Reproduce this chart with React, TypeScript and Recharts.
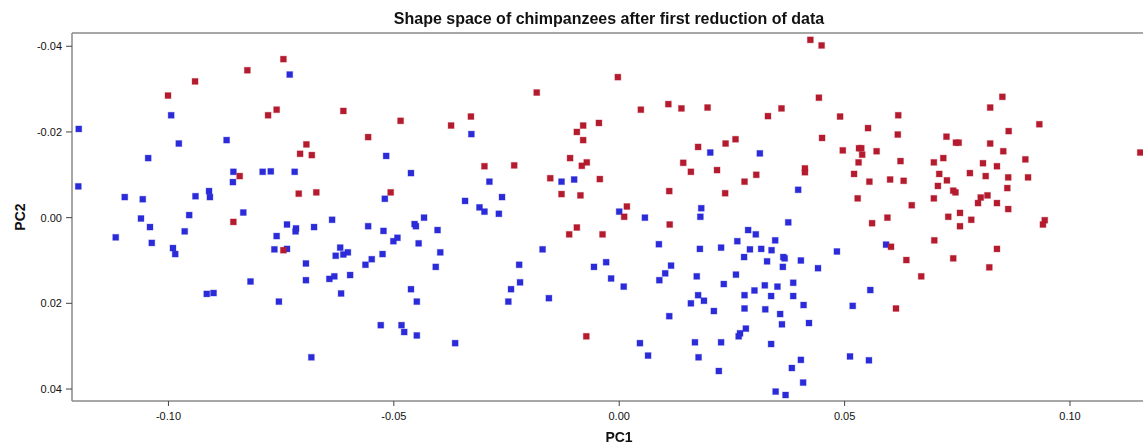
import React from 'react';
import { ScatterChart, Scatter, XAxis, YAxis, ReferenceLine } from 'recharts';

const title = 'Shape space of chimpanzees after first reduction of data';
const xLabel = 'PC1';
const yLabel = 'PC2';
const xTicks = [-0.1, -0.05, 0, 0.05, 0.1];
const yTicks = [-0.04, -0.02, 0, 0.02, 0.04];
const xDomain = [-0.1214, 0.1162];
const yDomain = [-0.0431, 0.0428];

const blueX = [
  -0.1199, -0.0994, -0.0977, -0.0871, -0.1045, -0.0856, -0.0857, -0.1200, -0.1097, -0.1057,
  -0.0940, -0.0910, -0.0908, -0.0834, -0.0954, -0.1061, -0.1041, -0.1117, -0.0964, -0.1037,
  -0.0990, -0.0985, -0.0818, -0.0915, -0.0900, -0.0731, -0.0791, -0.0773, -0.0720, -0.0517,
  -0.0462, -0.0520, -0.0737, -0.0717, -0.0718, -0.0677, -0.0637, -0.0760, -0.0557, -0.0523,
  -0.0454, -0.0451, -0.0433, -0.0403, -0.0765, -0.0737, -0.0619, -0.0629, -0.0612, -0.0602,
  -0.0501, -0.0492, -0.0445, -0.0525, -0.0549, -0.0563, -0.0397, -0.0407, -0.0695, -0.0695,
  -0.0643, -0.0632, -0.0597, -0.0617, -0.0755, -0.0462, -0.0449, -0.0529, -0.0483, -0.0477,
  -0.0449, -0.0683, -0.0328, -0.0288, -0.0260, -0.0342, -0.0310, -0.0299, -0.0267, -0.0128,
  -0.0100, 0.0000, -0.0170, -0.0222, -0.0220, -0.0240, -0.0246, -0.0156, -0.0056, -0.0029,
  -0.0018, 0.0010, -0.0364, 0.0202, 0.0312, 0.0397, 0.0057, 0.0182, 0.0180, 0.0375,
  0.0286, 0.0303, 0.0262, 0.0346, 0.0088, 0.0179, 0.0226, 0.0290, 0.0315, 0.0338,
  0.0277, 0.0328, 0.0364, 0.0367, 0.0403, 0.0363, 0.0115, 0.0102, 0.0089, 0.0172,
  0.0259, 0.0232, 0.0323, 0.0351, 0.0386, 0.0175, 0.0159, 0.0188, 0.0278, 0.0300,
  0.0337, 0.0386, 0.0409, 0.0210, 0.0278, 0.0324, 0.0357, 0.0111, 0.0361, 0.0421,
  0.0281, 0.0268, 0.0265, 0.0046, 0.0168, 0.0226, 0.0337, 0.0064, 0.0176, 0.0403,
  0.0383, 0.0221, 0.0408, 0.0347, 0.0369, 0.0592, 0.0483, 0.0441, 0.0557, 0.0518,
  0.0512, 0.0554,
];
const blueY = [
  -0.0207, -0.0239, -0.0173, -0.0181, -0.0139, -0.0107, -0.0083, -0.0073, -0.0048, -0.0043,
  -0.0050, -0.0062, -0.0048, -0.0012, -0.0006, 0.0002, 0.0022, 0.0046, 0.0032, 0.0059,
  0.0071, 0.0085, 0.0149, 0.0178, 0.0176, -0.0334, -0.0107, -0.0108, -0.0107, -0.0144,
  -0.0104, -0.0044, 0.0016, 0.0025, 0.0032, 0.0022, 0.0005, 0.0043, 0.0020, 0.0031,
  0.0015, 0.0020, 0.0000, 0.0029, 0.0074, 0.0073, 0.0070, 0.0089, 0.0086, 0.0081,
  0.0055, 0.0047, 0.0060, 0.0085, 0.0097, 0.0110, 0.0081, 0.0115, 0.0107, 0.0146,
  0.0143, 0.0137, 0.0134, 0.0177, 0.0196, 0.0167, 0.0196, 0.0251, 0.0251, 0.0267,
  0.0275, 0.0326, -0.0195, -0.0084, -0.0048, -0.0039, -0.0024, -0.0014, -0.0009, -0.0084,
  -0.0089, -0.0014, 0.0074, 0.0110, 0.0151, 0.0167, 0.0196, 0.0188, 0.0115, 0.0104,
  0.0142, 0.0161, 0.0293, -0.0152, -0.0150, -0.0065, 0.0000, -0.0022, -0.0002, 0.0011,
  0.0029, 0.0039, 0.0055, 0.0053, 0.0062, 0.0073, 0.0070, 0.0074, 0.0073, 0.0076,
  0.0092, 0.0102, 0.0092, 0.0095, 0.0100, 0.0115, 0.0112, 0.0130, 0.0146, 0.0137,
  0.0133, 0.0155, 0.0158, 0.0161, 0.0152, 0.0181, 0.0200, 0.0194, 0.0181, 0.0170,
  0.0183, 0.0183, 0.0204, 0.0218, 0.0212, 0.0214, 0.0225, 0.0230, 0.0249, 0.0246,
  0.0259, 0.0270, 0.0277, 0.0293, 0.0291, 0.0291, 0.0295, 0.0322, 0.0326, 0.0332,
  0.0351, 0.0358, 0.0385, 0.0406, 0.0414, 0.0063, 0.0079, 0.0118, 0.0169, 0.0206,
  0.0324, 0.0333,
];

const redX = [
  -0.0825, -0.0941, -0.1001, -0.0842, -0.0856, -0.0745, -0.0760, -0.0779, -0.0612, -0.0485,
  -0.0557, -0.0694, -0.0708, -0.0682, -0.0711, -0.0672, -0.0507, -0.0745, -0.0003, -0.0183,
  -0.0329, -0.0373, -0.0080, -0.0045, -0.0094, -0.0080, -0.0299, -0.0233, -0.0109, -0.0083,
  -0.0072, -0.0153, -0.0043, -0.0128, -0.0086, -0.0094, -0.0111, -0.0037, -0.0073, 0.0048,
  0.0109, 0.0138, 0.0196, 0.0330, 0.0360, 0.0175, 0.0236, 0.0258, 0.0142, 0.0159,
  0.0217, 0.0304, 0.0278, 0.0412, 0.0412, 0.0111, 0.0235, 0.0017, 0.0011, 0.0112,
  0.0424, 0.0449, 0.0443, 0.0490, 0.0619, 0.0552, 0.0618, 0.0450, 0.0726, 0.0747,
  0.0753, 0.0823, 0.0823, 0.0496, 0.0532, 0.0537, 0.0539, 0.0571, 0.0531, 0.0624,
  0.0698, 0.0719, 0.0807, 0.0521, 0.0555, 0.0601, 0.0631, 0.0710, 0.0727, 0.0707,
  0.0778, 0.0813, 0.0741, 0.0746, 0.0529, 0.0698, 0.0649, 0.0802, 0.0817, 0.0796,
  0.0756, 0.0595, 0.0730, 0.0781, 0.0756, 0.0561, 0.0699, 0.0603, 0.0637, 0.0741,
  0.0821, 0.0670, 0.0614, 0.0850, 0.0932, 0.0864, 0.0852, 0.0901, 0.0838, 0.0863,
  0.0907, 0.0861, 0.0838, 0.0863, 0.0944, 0.0940, 0.0838, 0.1156,
];
const redY = [
  -0.0344, -0.0318, -0.0285, -0.0097, 0.0010, -0.0370, -0.0252, -0.0239, -0.0249, -0.0226,
  -0.0188, -0.0171, -0.0149, -0.0146, -0.0056, -0.0059, -0.0059, 0.0076, -0.0328, -0.0292,
  -0.0236, -0.0215, -0.0215, -0.0221, -0.0200, -0.0181, -0.0120, -0.0122, -0.0139, -0.0121,
  -0.0129, -0.0092, -0.0090, -0.0055, -0.0052, 0.0023, 0.0039, 0.0039, 0.0277, -0.0252,
  -0.0265, -0.0255, -0.0257, -0.0237, -0.0255, -0.0165, -0.0173, -0.0183, -0.0128, -0.0107,
  -0.0111, -0.0100, -0.0084, -0.0115, -0.0106, -0.0062, -0.0057, -0.0026, -0.0002, 0.0016,
  -0.0415, -0.0402, -0.0280, -0.0236, -0.0239, -0.0209, -0.0194, -0.0186, -0.0189, -0.0175,
  -0.0175, -0.0257, -0.0173, -0.0157, -0.0162, -0.0162, -0.0147, -0.0155, -0.0129, -0.0132,
  -0.0129, -0.0139, -0.0127, -0.0102, -0.0084, -0.0089, -0.0086, -0.0102, -0.0087, -0.0074,
  -0.0104, -0.0097, -0.0063, -0.0059, -0.0045, -0.0045, -0.0029, -0.0047, -0.0052, -0.0034,
  -0.0011, 0.0000, -0.0002, 0.0005, 0.0020, 0.0013, 0.0053, 0.0068, 0.0099, 0.0095,
  0.0116, 0.0137, 0.0212, -0.0282, -0.0218, -0.0202, -0.0155, -0.0136, -0.0120, -0.0094,
  -0.0094, -0.0069, -0.0034, -0.0020, 0.0006, 0.0016, 0.0073, -0.0152,
];

const BLUE = '#2b2bd9';
const RED = '#b51b2e';
const FONT = '"Liberation Sans", Arial, Helvetica, sans-serif';

const blueData = blueX.map((x, i) => ({ x, y: blueY[i] }));
const redData = redX.map((x, i) => ({ x, y: redY[i] }));

const fmt = (v: number) => v.toFixed(2);

const Square = (props: any) => {
  const { cx, cy, fill } = props;
  if (cx == null || cy == null) return null;
  return (
    <rect x={cx - 3} y={cy - 3} width={6} height={6} fill={fill} stroke={fill} strokeOpacity={0.3} strokeWidth={1} />
  );
};

export default function App() {
  return (
    <div style={{ position: 'fixed', left: 0, top: 0, width: 1143, height: 444, background: '#fff', fontFamily: FONT }}>
      <ScatterChart width={1143} height={444} margin={{ top: 33, right: 0, bottom: 0, left: 0 }}>
        <XAxis
          type="number"
          dataKey="x"
          domain={xDomain}
          ticks={xTicks}
          tickFormatter={fmt}
          allowDataOverflow
          height={43}
          axisLine={{ stroke: '#8a8a8a', strokeWidth: 1.5 }}
          tickLine={{ stroke: '#444' }}
          tickSize={5}
          tickMargin={6}
          tick={{ fill: '#111', fontSize: 11, fontFamily: FONT }}
        />
        <YAxis
          type="number"
          dataKey="y"
          domain={yDomain}
          reversed
          ticks={yTicks}
          tickFormatter={fmt}
          allowDataOverflow
          width={72}
          axisLine={{ stroke: '#8a8a8a', strokeWidth: 1.5 }}
          tickLine={{ stroke: '#444' }}
          tickSize={6}
          tickMargin={4}
          tick={{ fill: '#111', fontSize: 11, fontFamily: FONT }}
        />
        <ReferenceLine y={yDomain[0]} stroke="#8a8a8a" strokeWidth={1.5} ifOverflow="visible" />
        <Scatter data={blueData} fill={BLUE} shape={Square} isAnimationActive={false} />
        <Scatter data={redData} fill={RED} shape={Square} isAnimationActive={false} />
      </ScatterChart>
      <div style={{ position: 'absolute', left: 0, width: 1218, top: 9, textAlign: 'center', fontWeight: 'bold', fontSize: 16, lineHeight: '20px', color: '#111' }}>
        {title}
      </div>
      <div style={{ position: 'absolute', left: 569, width: 100, top: 428, textAlign: 'center', fontWeight: 'bold', fontSize: 14, lineHeight: '18px', color: '#111' }}>
        {xLabel}
      </div>
      <div style={{ position: 'absolute', left: -30, width: 100, top: 208, textAlign: 'center', fontWeight: 'bold', fontSize: 14, lineHeight: '18px', color: '#111', transform: 'rotate(-90deg)' }}>
        {yLabel}
      </div>
    </div>
  );
}
